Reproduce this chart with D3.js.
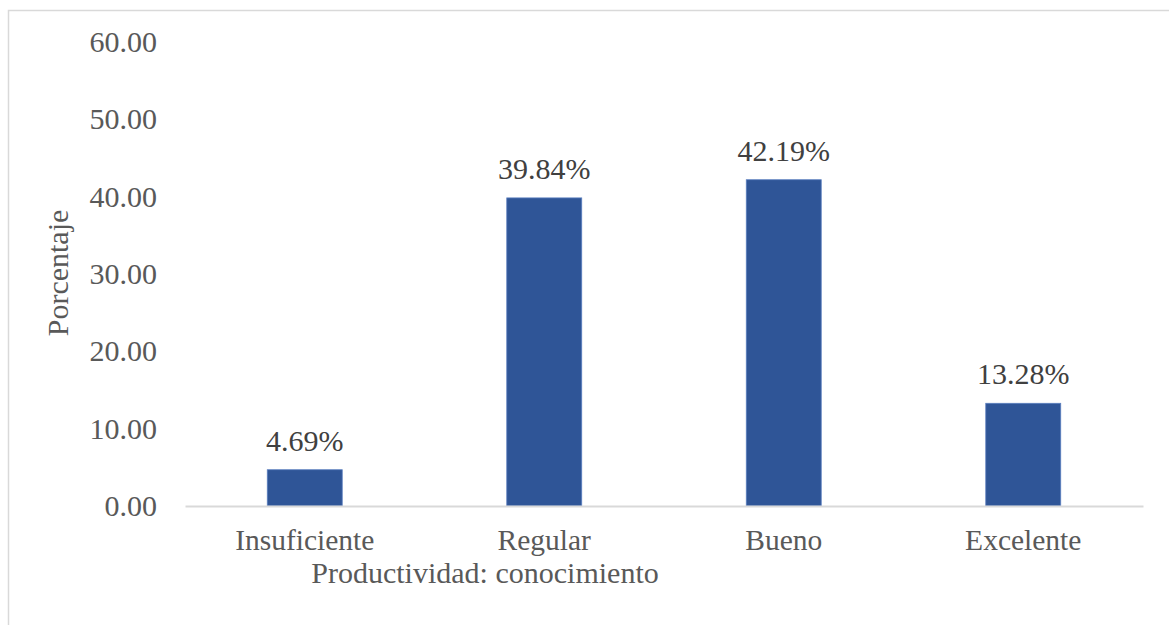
<!DOCTYPE html>
<html>
<head>
<meta charset="utf-8">
<script src="https://cdn.jsdelivr.net/npm/d3@7"></script>
<style>
  html, body { margin: 0; padding: 0; background: #fff; }
  svg { display: block; }
  text { font-family: "Liberation Serif", "Times New Roman", serif; }
</style>
</head>
<body>
<svg id="chart" width="1169" height="625"></svg>
<script>
// Productividad: conocimiento — distribución porcentual
const categories = ["Insuficiente", "Regular", "Bueno", "Excelente"];
const values = [4.69, 39.84, 42.19, 13.28];
const yTicks = [0, 10, 20, 30, 40, 50, 60];

const svg = d3.select("#chart");
const W = 1169, H = 625;

// chart frame (extends past the window on the right and bottom)
svg.append("rect")
  .attr("x", 8.5).attr("y", 10.5)
  .attr("width", 1300).attr("height", 800)
  .attr("fill", "#fff")
  .attr("stroke", "#d9d9d9")
  .attr("stroke-width", 1.5);

const plot = { left: 185, right: 1143, top: 42, bottom: 506 };

const x = d3.scaleBand()
  .domain(categories)
  .range([plot.left, plot.right])
  .paddingInner(0.687)
  .paddingOuter(0.3435);

const y = d3.scaleLinear()
  .domain([0, 60])
  .range([plot.bottom, plot.top]);

// y axis labels only (no axis line, no gridlines)
const yAxis = d3.axisLeft(y)
  .tickValues(yTicks)
  .tickFormat(d3.format(".2f"))
  .tickSize(0)
  .tickPadding(0);

const yg = svg.append("g")
  .attr("transform", `translate(157,0)`)
  .call(yAxis);
yg.select(".domain").remove();
yg.selectAll("text")
  .attr("font-family", "Liberation Serif, Times New Roman, serif")
  .attr("font-size", 30)
  .attr("fill", "#595959");

// bars
svg.append("g").selectAll("rect")
  .data(values)
  .join("rect")
  .attr("x", (d, i) => x(categories[i]))
  .attr("y", d => y(d))
  .attr("width", x.bandwidth())
  .attr("height", d => y(0) - y(d))
  .attr("fill", "#2f5597")
  .attr("stroke", "#5b7fbf")
  .attr("stroke-width", 0.8);

// x axis line and category labels
const xAxis = d3.axisBottom(x).tickSize(0).tickPadding(0);
const xg = svg.append("g")
  .attr("transform", `translate(0,${plot.bottom})`)
  .call(xAxis);
xg.select(".domain")
  .attr("stroke", "#d9d9d9")
  .attr("stroke-width", 2);
xg.selectAll("text")
  .attr("font-family", "Liberation Serif, Times New Roman, serif")
  .attr("font-size", 29.5)
  .attr("fill", "#595959")
  .attr("dy", null)
  .attr("y", 44);

// data labels
svg.append("g").selectAll("text")
  .data(values)
  .join("text")
  .attr("x", (d, i) => x(categories[i]) + x.bandwidth() / 2)
  .attr("y", d => y(d) - 19)
  .attr("text-anchor", "middle")
  .attr("font-size", 30)
  .attr("fill", "#404040")
  .text(d => d.toFixed(2) + "%");

// axis titles
svg.append("text")
  .attr("x", 485)
  .attr("y", 583)
  .attr("text-anchor", "middle")
  .attr("font-size", 30)
  .attr("fill", "#595959")
  .text("Productividad: conocimiento");

svg.append("text")
  .attr("transform", "translate(68,273) rotate(-90)")
  .attr("text-anchor", "middle")
  .attr("font-size", 30)
  .attr("fill", "#595959")
  .text("Porcentaje");
</script>
</body>
</html>
